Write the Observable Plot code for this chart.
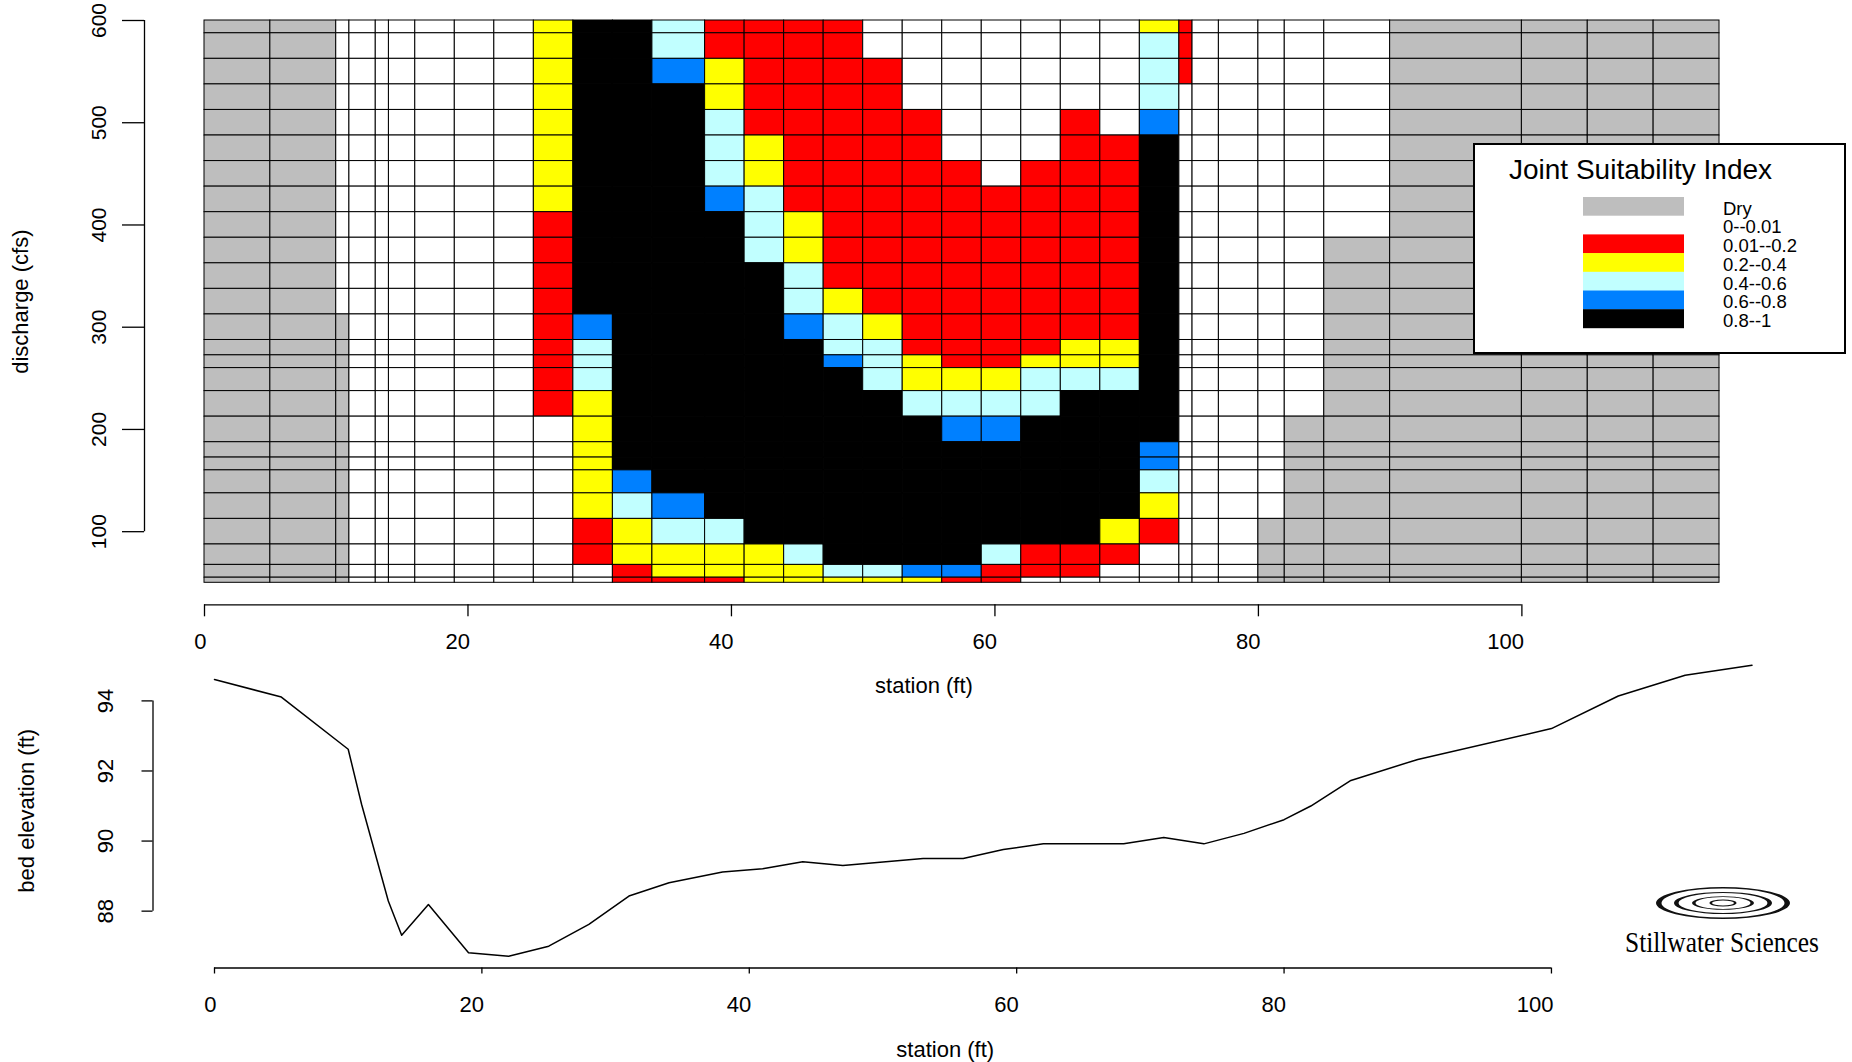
<!DOCTYPE html>
<html><head><meta charset="utf-8">
<script src="https://cdn.jsdelivr.net/npm/d3@7"></script>
<script src="https://cdn.jsdelivr.net/npm/@observablehq/plot@0.6"></script>
<style>
html,body{margin:0;padding:0;background:#fff;overflow:hidden;}
#wrap{position:relative;width:1852px;height:1062px;}
#wrap svg{position:absolute;left:0;top:0;}
</style></head><body><div id="wrap"></div>
<script>
// ---- data ----
const stations = [0,5,10,11,13,14,16,19,22,25,28,31,34,38,41,44,47,50,53,56,59,62,65,68,71,74,75,77,80,82,85,90,100,105,110,115];
const discharges = [600,575,550,525,500,475,450,425,400,375,350,325,300,275,270,250,225,200,175,170,150,125,100,75,60,50];
const jsiCodes  = ["G","W","R","Y","C","B","K"];
const jsiLabels = ["Dry","0--0.01","0.01--0.2","0.2--0.4","0.4--0.6","0.6--0.8","0.8--1"];
const jsiColors = ["#BEBEBE","#FFFFFF","#FF0000","#FFFF00","#C1FFFF","#0080FF","#000000"];
// one string per station column (left to right), one letter per discharge (600 -> 50)
const jsiByColumn = [
  "GGGGGGGGGGGGGGGGGGGGGGGGGG",
  "GGGGGGGGGGGGGGGGGGGGGGGGGG",
  "WWWWWWWWWWWWGGGGGGGGGGGGGG",
  "WWWWWWWWWWWWWWWWWWWWWWWWWW",
  "WWWWWWWWWWWWWWWWWWWWWWWWWW",
  "WWWWWWWWWWWWWWWWWWWWWWWWWW",
  "WWWWWWWWWWWWWWWWWWWWWWWWWW",
  "WWWWWWWWWWWWWWWWWWWWWWWWWW",
  "WWWWWWWWWWWWWWWWWWWWWWWWWW",
  "YYYYYYYYRRRRRRRRRWWWWWWWWW",
  "KKKKKKKKKKKKBCCCYYYYYYRRWW",
  "KKKKKKKKKKKKKKKKKKKKBCYYRR",
  "CCBKKKKKKKKKKKKKKKKKKBCYYR",
  "RRYYCCCBKKKKKKKKKKKKKKCYYR",
  "RRRRRYYCCCKKKKKKKKKKKKKYYY",
  "RRRRRRRRYYCCBKKKKKKKKKKCYY",
  "RRRRRRRRRRRYCCBKKKKKKKKKCY",
  "WWRRRRRRRRRRYCCCKKKKKKKKCY",
  "WWWWRRRRRRRRRRYYCKKKKKKKBY",
  "WWWWWWRRRRRRRRRYCBKKKKKKBR",
  "WWWWWWWRRRRRRRRYCBKKKKKCRR",
  "WWWWWWRRRRRRRRYCCKKKKKKRRW",
  "WWWWRRRRRRRRRYYCKKKKKKKRRW",
  "WWWWWRRRRRRRRYYCKKKKKKYRWW",
  "YCCCBKKKKKKKKKKKKKBBCYRWWW",
  "RRRWWWWWWWWWWWWWWWWWWWWWWW",
  "WWWWWWWWWWWWWWWWWWWWWWWWWW",
  "WWWWWWWWWWWWWWWWWWWWWWWWWW",
  "WWWWWWWWWWWWWWWWWWWWWWGGGG",
  "WWWWWWWWWWWWWWWWWGGGGGGGGG",
  "WWWWWWWWWGGGGGGGGGGGGGGGGG",
  "GGGGGGGGGGGGGGGGGGGGGGGGGG",
  "GGGGGGGGGGGGGGGGGGGGGGGGGG",
  "GGGGGGGGGGGGGGGGGGGGGGGGGG",
  "GGGGGGGGGGGGGGGGGGGGGGGGGG"
];
const bedStation   = [0,5,10,11,13,14,16,19,22,25,28,31,34,38,41,44,47,50,53,56,59,62,65,68,71,74,77,80,82,85,90,100,105,110,115];
const bedElevation = [94.61,94.11,92.62,91.05,88.29,87.31,88.19,86.81,86.71,87.0,87.62,88.43,88.81,89.12,89.21,89.41,89.3,89.4,89.5,89.5,89.76,89.92,89.92,89.92,90.1,89.92,90.22,90.61,91.0,91.73,92.33,93.21,94.14,94.73,95.02];
const xTicks    = [0,20,40,60,80,100];
const qTicks    = [100,200,300,400,500,600];
const elevTicks = [88,90,92,94];

const FONT = "'Liberation Sans', Arial, Helvetica, sans-serif";
const wrap = document.getElementById("wrap");

// ---- heatmap cells ----
const qExtent = d3.extent(discharges);
const cells = [];
jsiByColumn.forEach((col, c) => {
  [...col].forEach((code, r) => {
    const q = discharges[r];
    const upper = r === 0 ? qExtent[1] : (discharges[r - 1] + q) / 2;
    const lower = r === discharges.length - 1 ? qExtent[0] : (q + discharges[r + 1]) / 2;
    cells.push({x1: stations[c], x2: stations[c + 1], y1: lower, y2: upper, cls: jsiLabels[jsiCodes.indexOf(code)]});
  });
});

const topPlot = Plot.plot({
  width: 1852, height: 1062,
  marginLeft: 204, marginRight: 133, marginTop: 20, marginBottom: 479.7,
  x: {domain: d3.extent(stations)},
  y: {domain: qExtent},
  color: {domain: jsiLabels, range: jsiColors},
  style: {background: "transparent", fontFamily: FONT, overflow: "visible", color: "#000"},
  marks: [
    Plot.rect(cells, {x1: "x1", x2: "x2", y1: "y1", y2: "y2", fill: "cls", stroke: "#000", strokeWidth: 1}),
    Plot.ruleY([qExtent[0]], {x1: d3.min(xTicks), x2: d3.max(xTicks), dy: 22, strokeWidth: 1.3}),
    Plot.axisX({ticks: xTicks, tickSize: 12, dy: 22, tickFormat: () => "", label: null, strokeWidth: 1.3}),
    Plot.axisX({ticks: xTicks, tickSize: 0, tickPadding: 28.5, dy: 22, dx: 2, textAnchor: "end", fontSize: 22, label: null}),
    Plot.ruleX([d3.min(stations)], {y1: d3.min(qTicks), y2: d3.max(qTicks), dx: -60, strokeWidth: 1.3}),
    Plot.axisY({ticks: qTicks, tickSize: 22, tickPadding: 16.5, dx: -60, tickRotate: -90, fontSize: 21, label: null, strokeWidth: 1.3}),
    Plot.text(["station (ft)"], {text: d => d, frameAnchor: "bottom", textAnchor: "middle", lineAnchor: "middle", dx: -38, dy: 103, fontSize: 22}),
    Plot.text(["discharge (cfs)"], {text: d => d, frameAnchor: "left", textAnchor: "middle", lineAnchor: "middle", dx: -184, rotate: -90, fontSize: 22})
  ]
});
wrap.appendChild(topPlot);

// ---- bed elevation profile ----
const bed = bedStation.map((s, i) => ({s, e: bedElevation[i]}));
const sExt = d3.extent(bedStation), eExt = d3.extent(bedElevation);
const sPad = (sExt[1] - sExt[0]) * 0.04, ePad = (eExt[1] - eExt[0]) * 0.04;
const sDom = [sExt[0] - sPad, sExt[1] + sPad], eDom = [eExt[0] - ePad, eExt[1] + ePad];

const botPlot = Plot.plot({
  width: 1852, height: 1062,
  marginLeft: 152.5, marginRight: 39, marginTop: 653, marginBottom: 94.5,
  x: {domain: sDom},
  y: {domain: eDom},
  style: {background: "transparent", fontFamily: FONT, overflow: "visible", color: "#000"},
  marks: [
    Plot.line(bed, {x: "s", y: "e", stroke: "#000", strokeWidth: 1.5}),
    Plot.ruleY([eDom[0]], {x1: d3.min(xTicks), x2: d3.max(xTicks), strokeWidth: 1.3}),
    Plot.axisX({ticks: xTicks, tickSize: 6, tickFormat: () => "", label: null, strokeWidth: 1.3}),
    Plot.axisX({ticks: xTicks, tickSize: 0, tickPadding: 28.5, dx: 2, textAnchor: "end", fontSize: 22, label: null}),
    Plot.ruleX([sDom[0]], {y1: d3.min(elevTicks), y2: d3.max(elevTicks), strokeWidth: 1.3}),
    Plot.axisY({ticks: elevTicks, tickSize: 11, tickPadding: 28.6, tickRotate: -90, fontSize: 22, label: null, strokeWidth: 1.3}),
    Plot.text(["station (ft)"], {text: d => d, frameAnchor: "bottom", textAnchor: "middle", lineAnchor: "middle", dx: -38, dy: 81.5, fontSize: 22}),
    Plot.text(["bed elevation (ft)"], {text: d => d, frameAnchor: "left", textAnchor: "middle", lineAnchor: "middle", dx: -126.5, rotate: -90, fontSize: 22})
  ]
});
wrap.appendChild(botPlot);

// ---- legend + logo overlay ----
const ov = d3.create("svg").attr("width", 1852).attr("height", 1062)
  .attr("font-family", FONT);
const lg = ov.append("g");
lg.append("rect").attr("x", 1474).attr("y", 144).attr("width", 371).attr("height", 209)
  .attr("fill", "#fff").attr("stroke", "#000").attr("stroke-width", 2);
lg.append("text").attr("x", 1509).attr("y", 179).attr("font-size", 28).text("Joint Suitability Index");
const rowH = 18.7, row0 = 197;
jsiLabels.forEach((lab, i) => {
  lg.append("rect").attr("x", 1583).attr("y", row0 + i * rowH).attr("width", 101).attr("height", rowH + 0.3)
    .attr("fill", jsiColors[i]);
  lg.append("text").attr("x", 1723).attr("y", row0 + (i + 1) * rowH - 1).attr("font-size", 18.5).text(lab);
});
// logo: concentric calligraphic ripples
const logo = ov.append("g");
const ell = (cx, cy, rx, ry) => `M${cx - rx},${cy}a${rx},${ry} 0 1,0 ${2 * rx},0a${rx},${ry} 0 1,0 ${-2 * rx},0Z`;
[[67, 16, 61.5, 14.6], [49, 11, 44.5, 9.9], [31, 6.8, 27.5, 5.9], [13.5, 3.4, 11, 2.6]].forEach(([rx, ry, irx, iry]) => {
  logo.append("path").attr("d", ell(1723, 903, rx, ry) + ell(1723, 903, irx, iry))
    .attr("fill", "#111").attr("fill-rule", "evenodd");
});
logo.append("text").attr("x", 1625).attr("y", 952).attr("font-family", "'Liberation Serif', 'Times New Roman', serif")
  .attr("font-size", 29).attr("textLength", 194).attr("lengthAdjust", "spacingAndGlyphs").text("Stillwater Sciences");
wrap.appendChild(ov.node());
</script></body></html>
